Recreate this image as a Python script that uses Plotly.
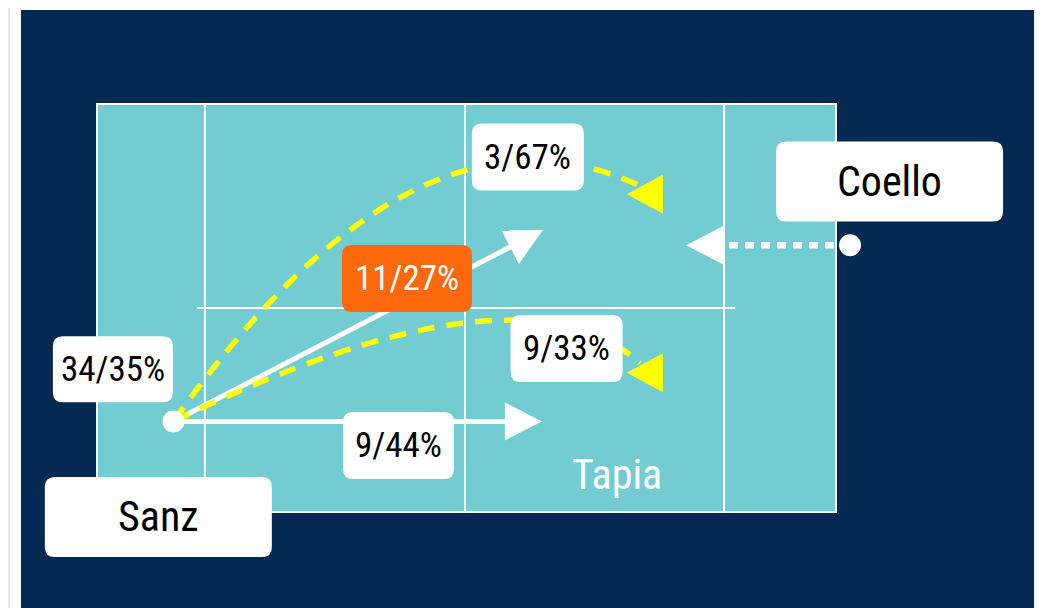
import plotly.graph_objects as go

# ---------------- data (court metres: x 0..20 along length, y 0..10 across) ----------------
COURT_LEN = 20.0
COURT_WID = 10.0
SERVICE_X = [2.92, 16.97]
NET_X = 9.96
CENTRE_LINE = [2.71, 17.27]

PLAYER_NAMES = ["Sanz", "Coello"]
PLAYER_POS_X = [2.07, 20.38]
PLAYER_POS_Y = [2.22, 6.54]
PLAYER_BOX_X = [1.66, 21.45]
PLAYER_BOX_Y = [-0.12, 8.10]
PARTNER_NAME = "Tapia"
PARTNER_X = 14.07
PARTNER_Y = 0.93

TOTAL_LABEL = "34/35%"
TOTAL_X, TOTAL_Y = 0.43, 3.50

# drives (white solid arrows) from Sanz
DRIVE_LABELS = ["11/27%", "9/44%"]
DRIVE_END_X = [12.07, 12.04]
DRIVE_END_Y = [6.91, 2.22]
DRIVE_LAB_X = [8.39, 8.16]
DRIVE_LAB_Y = [5.72, 1.63]
DRIVE_HIGHLIGHT = [True, False]

# lobs (yellow dashed curves) from Sanz
LOB_LABELS = ["3/67%", "9/33%"]
LOB_CTRL_X = [8.61, 11.39]
LOB_CTRL_Y = [10.59, 6.32]
LOB_END_X = [14.70, 14.70]
LOB_END_Y = [7.99, 3.65]
LOB_HEAD_X = [14.34, 14.34]
LOB_HEAD_Y = [7.79, 3.41]
LOB_LAB_X = [11.66, 12.71]
LOB_LAB_Y = [8.70, 4.01]

# Coello's movement (white dotted arrow)
MOVE_END_X = 15.94
MOVE_END_Y = 6.54

# ---------------- layout / style ----------------
W, H = 1049, 608
OFF = 8  # page body margin
CX0, CX1, CY0, CY1 = 97 - OFF, 836 - OFF, 104 - OFF, 512 - OFF  # court box in figure px
SX = (CX1 - CX0) / COURT_LEN
SY = (CY1 - CY0) / COURT_WID

NAVY = "#042a53"
TEAL = "#72ccd1"
LAV = "#e4e4f4"
ORANGE = "#ff690d"
YELLOW = "#ffff00"
FONT = "Roboto Condensed, Roboto, sans-serif"

shapes = []
annotations = []
traces = []

# page frame
shapes.append(dict(type="rect", xref="paper", yref="paper", x0=(10 - OFF) / W, x1=(1045 - OFF) / W,
                   y0=-0.1, y1=1.1, fillcolor="white", line_width=0, layer="below"))
shapes.append(dict(type="rect", xref="paper", yref="paper", x0=(21 - OFF) / W, x1=(1034 - OFF) / W,
                   y0=-0.1, y1=(H - (10 - OFF)) / H, fillcolor=NAVY, line_width=0, layer="below"))

# court
shapes.append(dict(type="rect", x0=0, x1=COURT_LEN, y0=0, y1=COURT_WID, fillcolor=TEAL,
                   line=dict(color="white", width=2), layer="below"))
for xv in SERVICE_X + [NET_X]:
    shapes.append(dict(type="line", x0=xv, x1=xv, y0=0, y1=COURT_WID,
                       line=dict(color="white", width=2), layer="below"))
shapes.append(dict(type="line", x0=CENTRE_LINE[0], x1=CENTRE_LINE[1], y0=COURT_WID / 2,
                   y1=COURT_WID / 2, line=dict(color="white", width=2), layer="below"))


def tri_path(tx, ty, ux, uy, length, width):
    """triangle with tip (tx,ty) in data units, pointing along screen unit vector (ux,uy)"""
    bx = -ux * length
    by = -uy * length
    px_, py_ = -uy, ux
    pts = [(0, 0), (bx + px_ * width / 2, by + py_ * width / 2),
           (bx - px_ * width / 2, by - py_ * width / 2)]
    return "M" + " L".join(f"{tx + a / SX},{ty - b / SY}" for a, b in pts) + " Z"


def unit_screen(x0, y0, x1, y1):
    dx = (x1 - x0) * SX
    dy = -(y1 - y0) * SY
    n = (dx * dx + dy * dy) ** 0.5
    return dx / n, dy / n


def rrect(cx, cy, wpx, hpx, r=10):
    hw, hh, rx, ry = wpx / 2 / SX, hpx / 2 / SY, r / SX, r / SY
    x0, x1, y0, y1 = cx - hw, cx + hw, cy - hh, cy + hh
    return (f"M{x0+rx},{y0} L{x1-rx},{y0} Q{x1},{y0} {x1},{y0+ry} L{x1},{y1-ry} "
            f"Q{x1},{y1} {x1-rx},{y1} L{x0+rx},{y1} Q{x0},{y1} {x0},{y1-ry} "
            f"L{x0},{y0+ry} Q{x0},{y0} {x0+rx},{y0} Z")


sx, sy = PLAYER_POS_X[0], PLAYER_POS_Y[0]
HEAD_L, HEAD_W = 37, 38

# drives
for ex, ey in zip(DRIVE_END_X, DRIVE_END_Y):
    ux, uy = unit_screen(sx, sy, ex, ey)
    bx = ex - ux * (HEAD_L - 2) / SX
    by = ey + uy * (HEAD_L - 2) / SY
    shapes.append(dict(type="line", x0=sx, y0=sy, x1=bx, y1=by,
                       line=dict(color="white", width=5), layer="between"))
    shapes.append(dict(type="path", path=tri_path(ex, ey, ux, uy, HEAD_L, HEAD_W),
                       fillcolor="white", line_width=0, layer="between"))

# lobs
for cxl, cyl, ex, ey, hx, hy in zip(LOB_CTRL_X, LOB_CTRL_Y, LOB_END_X, LOB_END_Y,
                                    LOB_HEAD_X, LOB_HEAD_Y):
    shapes.append(dict(type="path", path=f"M{sx},{sy} Q{cxl},{cyl} {ex},{ey}",
                       line=dict(color=YELLOW, width=5.5, dash="17px,12px"), layer="between"))
    shapes.append(dict(type="path", path=tri_path(hx, hy, -1, 0, 36, 39),
                       fillcolor=YELLOW, line_width=0, layer="between"))

# Coello movement
cxp, cyp = PLAYER_POS_X[1], PLAYER_POS_Y[1]
shapes.append(dict(type="line", x0=cxp, y0=cyp, x1=MOVE_END_X + 36 / SX, y1=MOVE_END_Y,
                   line=dict(color="white", width=6.5, dash="9px,7px"), layer="between"))
shapes.append(dict(type="path", path=tri_path(MOVE_END_X, MOVE_END_Y, -1, 0, 37, 38),
                   fillcolor="white", line_width=0, layer="between"))

# player dots
traces.append(go.Scatter(x=PLAYER_POS_X, y=PLAYER_POS_Y, mode="markers",
                         marker=dict(color="white", size=22, line_width=0),
                         hoverinfo="skip", showlegend=False))

# label boxes
STAT_FS = 35
NAME_FS = 42


def add_label(text, x, y, wpx, hpx, fill, fcolor, fs):
    shapes.append(dict(type="path", path=rrect(x, y, wpx, hpx), fillcolor=fill,
                       line_width=0, layer="above"))
    annotations.append(dict(x=x, y=y, text=text, showarrow=False, yshift=0,
                            font=dict(family=FONT, size=fs, color=fcolor)))


add_label(TOTAL_LABEL, TOTAL_X, TOTAL_Y, 120, 66, "white", "black", STAT_FS)
for lab, x, y, hl in zip(DRIVE_LABELS, DRIVE_LAB_X, DRIVE_LAB_Y, DRIVE_HIGHLIGHT):
    add_label(lab, x, y, 130 if hl else 111, 67, ORANGE if hl else "white",
              "white" if hl else "black", STAT_FS)
for lab, x, y in zip(LOB_LABELS, LOB_LAB_X, LOB_LAB_Y):
    add_label(lab, x, y, 112, 67, "white", "black", STAT_FS)
for name, x, y in zip(PLAYER_NAMES, PLAYER_BOX_X, PLAYER_BOX_Y):
    add_label(name, x, y, 227, 80, "white", "black", NAME_FS)
annotations.append(dict(x=PARTNER_X, y=PARTNER_Y, text=PARTNER_NAME, showarrow=False,
                        font=dict(family=FONT, size=NAME_FS, color="white")))

fig = go.Figure(traces)
fig.update_layout(
    width=W, height=H, margin=dict(l=0, r=0, t=0, b=0),
    paper_bgcolor=LAV, plot_bgcolor=LAV,
    shapes=shapes, annotations=annotations, showlegend=False,
    xaxis=dict(range=[-CX0 / SX, (W - CX0) / SX], visible=False, fixedrange=True),
    yaxis=dict(range=[-(H - CY1) / SY, CY1 / SY], visible=False, fixedrange=True),
)
fig.write_html("out.html", config={"displayModeBar": False})
